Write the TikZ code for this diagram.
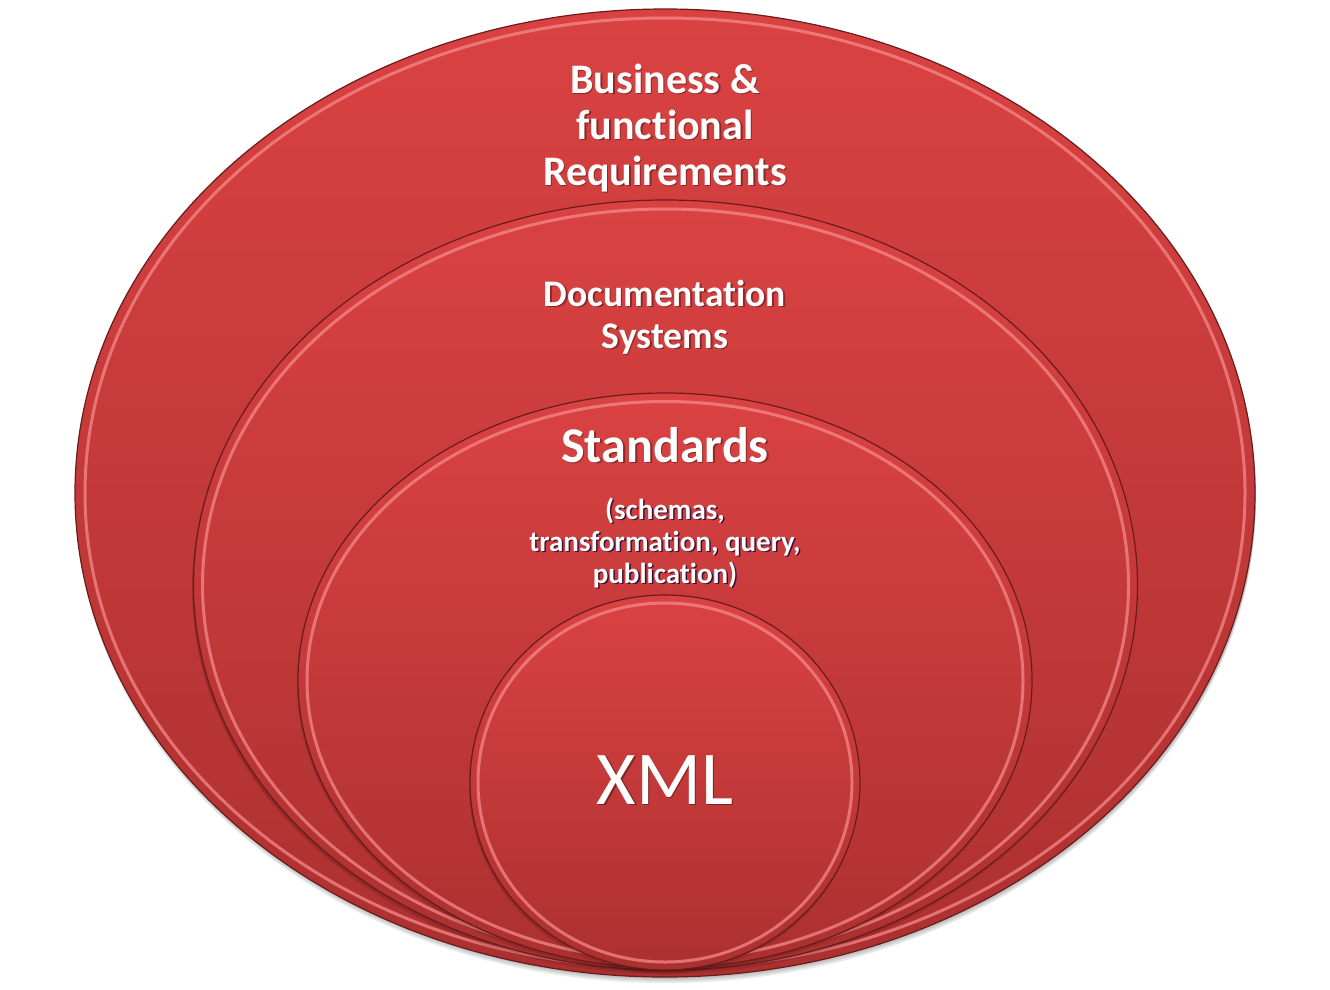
\documentclass[tikz,border=0pt]{standalone}
\usepackage{fontspec}
\setmainfont[Ligatures=NoCommon]{Carlito}
\definecolor{redtop}{HTML}{DA4242}
\definecolor{redbot}{HTML}{AC3030}
\definecolor{rededge}{HTML}{6A1C1C}
\definecolor{redhi}{HTML}{F58888}
\tikzset{
  disc/.style={top color=redtop, bottom color=redbot, draw=rededge, line width=1.2pt},
  bevel/.style={draw=redhi, line width=3pt, opacity=.75},
  dshade/.style={fill=black, opacity=.09},
  lbl/.style={text=white, align=center, inner sep=0pt},
  lblsh/.style={text=black, opacity=.35, align=center, inner sep=0pt},
}
\begin{document}
\begin{tikzpicture}[x=1pt,y=-1pt]
\useasboundingbox (0,0) rectangle (1330,989);
% outer ellipse
\foreach \s in {2,4,6} {\fill[dshade] (666,493+\s) ellipse (590 and 484);}
\path[disc] (665,493) ellipse (590 and 484);
\draw[bevel] (665,493) ellipse (580 and 475);
% second
\foreach \s in {2,4} {\fill[dshade] (664,585+\s) ellipse (472 and 385);}
\path[disc] (665.5,585) ellipse (472 and 385);
\draw[bevel] (665.5,585) ellipse (463 and 376);
% third
\foreach \s in {2,4} {\fill[dshade] (664,680.5+\s) ellipse (367 and 287.5);}
\path[disc] (665,680.5) ellipse (367 and 287.5);
\draw[bevel] (665,680.5) ellipse (358 and 279);
% inner circle
\foreach \s in {2,4} {\fill[dshade] (664,782.5+\s) ellipse (195 and 187.5);}
\path[disc] (665,782.5) ellipse (195 and 187.5);
\draw[bevel] (665,782.5) ellipse (187 and 179.5);
% labels
\node[lblsh, font=\fontsize{42}{46}\selectfont\bfseries] (bizs) at (666.5,129.5) {Business \&\\functional\\Requirements};
\node[lbl, font=\fontsize{42}{46}\selectfont\bfseries] (biz) at (665,128) {Business \&\\functional\\Requirements};
\node[lblsh, font=\fontsize{37.5}{42}\selectfont\bfseries] (docs) at (666.5,318.5) {Documentation\\Systems};
\node[lbl, font=\fontsize{37.5}{42}\selectfont\bfseries] (doc) at (665,317) {Documentation\\Systems};
\node[lblsh, font=\fontsize{50}{56}\selectfont\bfseries] (stds) at (666.5,446.5) {Standards};
\node[lbl, font=\fontsize{50}{56}\selectfont\bfseries] (std) at (665,445) {Standards};
\node[lblsh, opacity=.7, text=black!80!blue, font=\fontsize{29}{32}\selectfont\bfseries] (subs) at (666.5,544.5) {(schemas,\\transformation, query,\\publication)};
\node[lbl, font=\fontsize{29}{32}\selectfont\bfseries] (sub) at (665,543) {(schemas,\\transformation, query,\\publication)};
\node[lblsh, font=\fontsize{76}{90}\selectfont] (xmls) at (666.5,781.5) {XML};
\node[lbl, font=\fontsize{76}{90}\selectfont] (xml) at (665,780) {XML};
\end{tikzpicture}
\end{document}
